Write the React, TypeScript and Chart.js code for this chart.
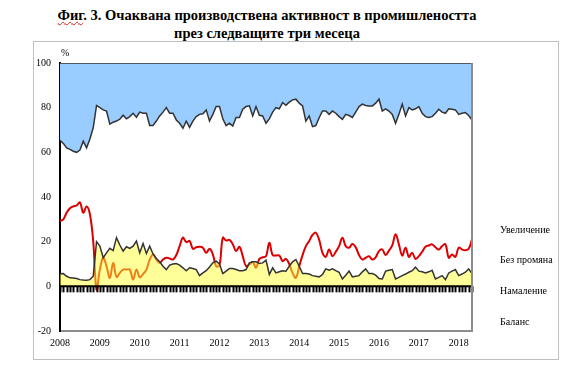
import React, { useEffect, useRef } from 'react';
import { Chart, registerables } from 'chart.js';

Chart.register(...registerables);

const years = ['2008', '2009', '2010', '2011', '2012', '2013', '2014', '2015', '2016', '2017', '2018'];

// Намаление (decrease), % of answers, monthly Jan 2008 – May 2018
const decrease = [
  5.6, 5.7, 4.5, 3.8, 3.7, 3.5, 3, 2.8, 2.7, 3, 4.5, 20,
  18, 12.8, 15, 17, 16, 21.8, 18.5, 15.8, 17.7, 17, 18, 20.3,
  15, 19.2, 14.7, 18, 14.5, 12.5, 11, 9, 7.5, 9.5, 10, 10.2,
  9.5, 8.3, 7, 8.3, 8, 7.5, 4.8, 6, 7, 8.7, 10.5, 11.3,
  10, 5.7, 6.8, 8, 8, 7.5, 7, 7, 7.5, 10.5, 11, 11,
  10.2, 10.5, 11.7, 5.3, 8.3, 6, 6.5, 7, 6.8, 9, 11, 12,
  9, 5.7, 5.7, 5.5, 4.8, 4.5, 4.2, 5.3, 7.8, 7.2, 7.8, 7,
  6.3, 3.3, 5, 6.8, 4.2, 4.5, 4.8, 6.5, 7.8, 5.7, 5.7, 5,
  3.5, 3.3, 6.8, 7.2, 7.5, 3.3, 4, 4.8, 5.5, 6.3, 7, 8.6,
  6.8, 6.5, 6, 6.5, 7.2, 3.3, 4, 4.8, 3, 6, 6.8, 7.5,
  4.8, 5.5, 6.3, 7.8, 5.7,
];

// Увеличение (increase), % of answers
const increase = [
  34.6, 36, 38, 38.7, 39.5, 40, 39, 35, 38, 34, 29, 19,
  20, 21, 21.5, 27.4, 26.5, 26, 25.2, 23.4, 25, 24, 22.5, 24.3,
  22, 22.5, 22.5, 28, 28, 26, 23.7, 22, 20, 22.5, 22.5, 25.5,
  27, 29.2, 26, 28.8, 26, 24, 23, 22.7, 21, 26, 23, 19.5,
  19.5, 25, 28, 27, 28.2, 24.4, 24.4, 20.7, 19.5, 19.2, 23.7, 19.5,
  23.4, 23.7, 27, 25, 22, 20, 20.5, 17.7, 18.9, 17.5, 16.5, 16.2,
  18, 19.2, 26, 23.7, 28.5, 28, 24.5, 21.5, 21.5, 23, 21.5, 22.5,
  24, 25.2, 23, 23.5, 24.4, 22, 19.5, 18.4, 19, 19.2, 19.2, 18,
  16.2, 21.5, 20.5, 21.5, 23, 27, 23, 18.4, 23.7, 20, 21, 20.5,
  19.5, 22.5, 24, 24.4, 24, 22.5, 20.7, 22, 22.5, 20.5, 20.7, 21,
  23, 22.5, 22.2, 23.5, 25.5,
];

// Баланс (balance), percentage points
const balance = [
  29.3, 30, 33, 35, 35.8, 36.2, 37.6, 33, 35.8, 32.3, 20, -1.5,
  7.5, 12.8, 9, 3.8, 10.5, 4.2, 6, 7.5, 7.5, 7.5, 3, 7.5,
  4, 5.5, 7.5, 12, 14.3, 12, 10.5, 12, 12.8, 12.5, 12, 14,
  18, 21.8, 19.8, 20.3, 16.8, 17.5, 17.7, 17.3, 15, 16.8, 14.3, 9,
  9.5, 21.8, 20.5, 20.8, 18.8, 15.8, 17.7, 13.5, 9, 9.8, 10.8, 8.3,
  12.3, 13, 13.5, 19.5, 14, 13.8, 13.8, 11.3, 12.3, 10, 6, 3.8,
  9, 14, 18, 20.3, 23, 24, 20.8, 15, 13.2, 16.5, 13.5, 15.5,
  18, 21.8, 18, 17.3, 19, 17.5, 14, 12, 12.8, 13.5, 12, 13,
  15.8, 16.5, 14, 16, 18.3, 23.3, 18.8, 13.8, 17.3, 13.2, 15, 12.3,
  13.5, 15.5, 17.7, 18.3, 18.8, 17.5, 16.5, 18, 18.8, 12.8, 14.3, 13.2,
  17.3, 16.5, 16.2, 16.8, 21,
];

const legendNames = ['Увеличение', 'Без промяна', 'Намаление', 'Баланс'];
const yMin = -20;
const yMax = 100;
const yStep = 20;

const labels = decrease.map(
  (_, i) => `${years[Math.floor(i / 12)]}-${String((i % 12) + 1).padStart(2, '0')}`
);
const noChange = decrease.map((d, i) => +(100 - d - increase[i]).toFixed(1));

const SERIF = "'Liberation Serif', 'Times New Roman', serif";

const zeroAxisPlugin = {
  id: 'zeroAxis',
  afterDatasetsDraw(chart: any) {
    const { ctx, chartArea, scales } = chart;
    const xs = scales.x;
    const ys = scales.y;
    const y0 = ys.getPixelForValue(0);
    ctx.save();
    ctx.strokeStyle = '#000';
    ctx.lineWidth = 2;
    ctx.beginPath();
    ctx.moveTo(chartArea.left, y0);
    ctx.lineTo(chartArea.right, y0);
    ctx.stroke();
    ctx.lineWidth = 2;
    for (let i = 0; i < labels.length; i++) {
      const px = Math.round(xs.getPixelForValue(i)) + 0.5;
      ctx.beginPath();
      ctx.moveTo(px, y0);
      ctx.lineTo(px, y0 + 6);
      ctx.stroke();
    }
    ctx.strokeStyle = '#8c8c8c';
    ctx.lineWidth = 2;
    ctx.beginPath();
    ctx.moveTo(chartArea.right, chartArea.top);
    ctx.lineTo(chartArea.right, chartArea.bottom);
    ctx.stroke();
    ctx.restore();
  },
};

export default function App() {
  const ref = useRef<HTMLCanvasElement>(null);

  useEffect(() => {
    const chart = new Chart(ref.current as HTMLCanvasElement, {
      type: 'line',
      data: {
        labels,
        datasets: [
          {
            label: legendNames[2],
            data: decrease,
            stack: 'shares',
            fill: 'origin',
            backgroundColor: 'rgba(255,255,51,0.5)',
            borderColor: '#333333',
            borderWidth: 1.5,
            pointRadius: 0,
            tension: 0,
            order: 0,
          },
          {
            label: legendNames[1],
            data: noChange,
            stack: 'shares',
            fill: false,
            borderColor: '#333333',
            borderWidth: 1.5,
            pointRadius: 0,
            tension: 0,
            order: 0,
          },
          {
            label: legendNames[0],
            data: increase,
            stack: 'shares',
            fill: '-1',
            backgroundColor: '#99ccff',
            borderColor: '#333333',
            borderWidth: 1.5,
            pointRadius: 0,
            tension: 0,
            order: 0,
          },
          {
            label: legendNames[3],
            data: balance,
            stack: 'bal',
            fill: false,
            borderColor: '#dd0000',
            borderWidth: 2,
            pointRadius: 0,
            tension: 0.4,
            order: 1,
          },
        ],
      },
      options: {
        animation: false,
        responsive: false,
        maintainAspectRatio: false,
        layout: { padding: { left: 30, right: 108, top: 63, bottom: 21 } },
        plugins: { legend: { display: false }, tooltip: { enabled: false }, title: { display: false } },
        scales: {
          x: {
            type: 'category',
            offset: false,
            grid: { display: false, drawTicks: false },
            border: { display: true, color: '#8c8c8c', width: 2 },
            ticks: {
              autoSkip: false,
              maxRotation: 0,
              padding: 6,
              color: '#000',
              font: { family: SERIF, size: 10 },
              callback: (_v: any, i: number) => (i % 12 === 0 ? years[i / 12] : null),
            },
            afterFit: (s: any) => {
              s.height = 20;
            },
          },
          y: {
            stacked: true,
            min: yMin,
            max: yMax,
            grid: { display: false, drawTicks: false },
            border: { display: true, color: '#000', width: 2 },
            ticks: {
              stepSize: yStep,
              padding: 9,
              color: '#000',
              font: { family: SERIF, size: 10 },
            },
            afterFit: (s: any) => {
              s.width = 30;
            },
          },
        },
      },
      plugins: [zeroAxisPlugin],
    } as any);
    return () => chart.destroy();
  }, []);

  const legendTops = [224, 254, 285, 316];

  return (
    <div
      style={{
        position: 'absolute',
        left: 0,
        top: 0,
        width: 580,
        height: 372,
        background: '#fff',
        fontFamily: SERIF,
        color: '#000',
      }}
    >
      <div
        style={{
          position: 'absolute',
          left: 0,
          top: 6,
          width: 534,
          textAlign: 'center',
          fontWeight: 'bold',
          fontSize: 14.5,
          lineHeight: '18px',
        }}
      >
        <div>
          <span style={{ textDecoration: 'underline wavy #d02020', textDecorationThickness: '1px' }}>Фиг</span>. 3. Очаквана производствена активност в промишлеността
        </div>
        <div>през следващите три месеца</div>
      </div>
      <div
        style={{
          position: 'absolute',
          left: 33,
          top: 41,
          width: 526,
          height: 319,
          border: '1px solid #c0c0c0',
          boxSizing: 'border-box',
        }}
      />
      <canvas ref={ref} width={580} height={372} style={{ position: 'absolute', left: 0, top: 0 }} />
      <div style={{ position: 'absolute', left: 61, top: 47, fontSize: 10, lineHeight: '12px' }}>%</div>
      {legendNames.map((n, i) => (
        <div
          key={n}
          style={{ position: 'absolute', left: 500, top: legendTops[i], fontSize: 10, lineHeight: '12px', whiteSpace: 'nowrap' }}
        >
          {n}
        </div>
      ))}
    </div>
  );
}
